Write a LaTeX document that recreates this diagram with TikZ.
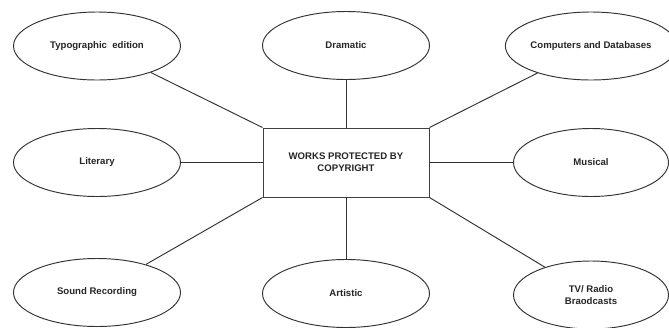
\documentclass[tikz,border=0pt]{standalone}
\usepackage{fontspec}
\setmainfont{Liberation Sans}
\usetikzlibrary{shapes.geometric}
\begin{document}
\begin{tikzpicture}[x=1pt,y=-1pt,
  every node/.style={font=\fontsize{9.6}{12}\selectfont\bfseries, text=black!85},
  work/.style={ellipse, draw=black!80, line width=0.95pt, fill=white,
    minimum width=167pt, minimum height=68pt, inner sep=0pt, align=center},
  workR/.style={work, minimum width=155pt},
  hub/.style={rectangle, draw=black!75, line width=0.95pt, fill=white,
    minimum width=166pt, minimum height=69pt, inner sep=0pt, align=center},
  link/.style={draw=black!80, line width=0.95pt}]
\useasboundingbox[fill=white] (0,0) rectangle (669,327);

% central box
\node[hub] (hub) at (346,162.5) {WORKS PROTECTED BY\\COPYRIGHT};

% categories around it
\node[work]  (typo)  at (97,46)    {Typographic\ \ edition};
\node[work]  (drama) at (346,45.5) {Dramatic};
\node[workR] (comp)  at (591,46)   {Computers and Databases};
\node[work]  (lit)   at (97,162.5) {Literary};
\node[workR] (music) at (591,162.5){Musical};
\node[work]  (sound) at (97,292.5) {Sound Recording};
\node[work]  (art)   at (346,293.5){Artistic};
\node[workR] (tv)    at (591,295)  {TV/ Radio\\Braodcasts};

% connectors from the box to each category
\path[link] (hub.north west) -- (typo);
\path[link] (hub.north) -- (drama);
\path[link] (hub.north east) -- (comp);
\path[link] (hub.west) -- (lit);
\path[link] (hub.east) -- (music);
\path[link] (hub.south west) -- (sound);
\path[link] (hub.south) -- (art);
\path[link] (hub.south east) -- (tv);
\end{tikzpicture}
\end{document}
